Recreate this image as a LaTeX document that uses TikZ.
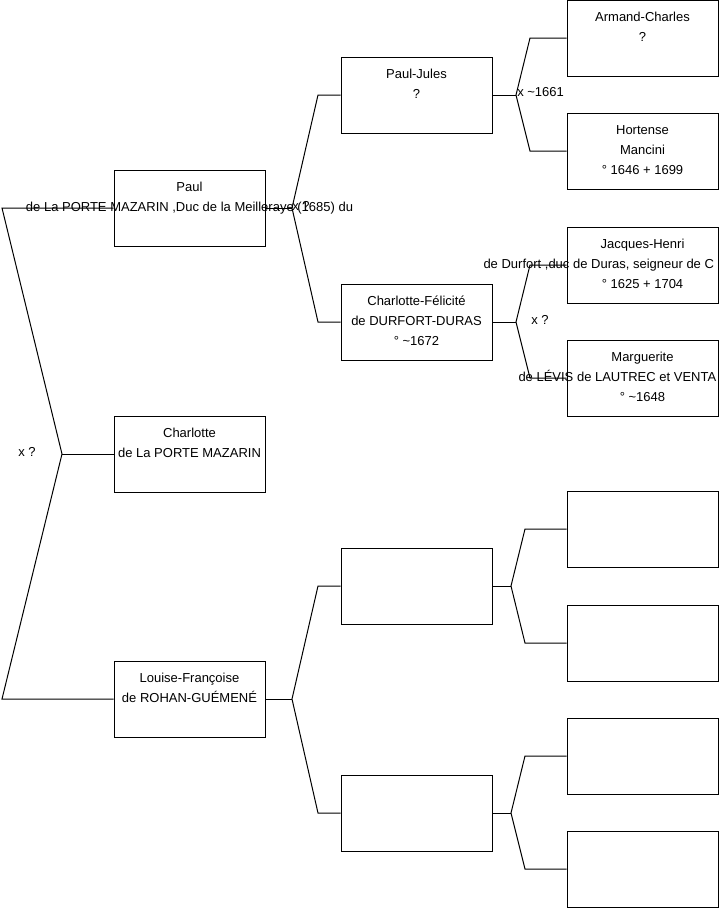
\documentclass[tikz,border=0pt]{standalone}
\usepackage{fontspec}
\setmainfont{Liberation Sans}
\newcommand{\ligne}{\rule[-4.75pt]{0pt}{15pt}}
\newcommand{\trois}[3]{\ligne#1\\\ligne#2\\\ligne#3}
\tikzset{
  personne/.style={draw, line width=0.75pt, minimum width=113.25pt, minimum height=57pt,
    inner sep=0pt, align=center, font=\fontsize{9.75}{15}\selectfont},
  mariage/.style={inner sep=0pt, font=\fontsize{9.75}{15}\selectfont},
  lien/.style={line width=0.75pt}
}
\begin{document}
\begin{tikzpicture}[x=0.75pt, y=-0.75pt]
\useasboundingbox (0,0) rectangle (719,908);
% generation 1
\node[personne] (paul) at (189.5,208) {\trois{Paul}{\makebox[0pt]{de La PORTE MAZARIN ,Duc de la Meilleraye (1685) du}}{}};
\node[personne] (charlotte) at (189.5,454) {\trois{Charlotte}{de La PORTE MAZARIN}{}};
\node[personne] (louise) at (189.5,699) {\trois{Louise-Françoise}{de ROHAN-GUÉMENÉ}{}};
% generation 2
\node[personne] (pauljules) at (416.5,95) {\trois{Paul-Jules}{?}{}};
\node[personne] (charlottefelicite) at (416.5,322) {\trois{Charlotte-Félicité}{de DURFORT-DURAS}{° \textasciitilde1672}};
\node[personne] (vide1) at (416.5,586) {};
\node[personne] (vide2) at (416.5,813) {};
% generation 3
\node[personne] (armand) at (642.5,38) {\trois{Armand-Charles}{?}{}};
\node[personne] (hortense) at (642.5,151) {\trois{Hortense}{Mancini}{° 1646 + 1699}};
\node[personne] (jacqueshenri) at (642.5,265) {\trois{Jacques-Henri}{\makebox[0pt][l]{\hspace{-119.25pt}de Durfort ,duc de Duras, seigneur de C}}{° 1625 + 1704}};
\node[personne] (marguerite) at (642.5,378) {\trois{Marguerite}{\makebox[0pt][l]{\hspace{-93pt}de LÉVIS de LAUTREC et VENTA}}{° \textasciitilde1648}};
\node[personne] (vide3) at (642.5,529) {};
\node[personne] (vide4) at (642.5,643) {};
\node[personne] (vide5) at (642.5,756) {};
\node[personne] (vide6) at (642.5,869) {};
% forks
\coordinate (j0) at (62,454);
\coordinate (e0a) at (2,208);
\coordinate (e0b) at (2,699);
\coordinate (j1) at (292,208);
\coordinate (e1a) at (318,95);
\coordinate (e1b) at (318,322);
\coordinate (j2) at (292,699);
\coordinate (e2a) at (318,586);
\coordinate (e2b) at (318,813);
\coordinate (j3) at (516,95);
\coordinate (e3a) at (530,38);
\coordinate (e3b) at (530,151);
\coordinate (j4) at (516,322);
\coordinate (e4a) at (530,265);
\coordinate (e4b) at (530,378);
\coordinate (j5) at (511,586);
\coordinate (e5a) at (525,529);
\coordinate (e5b) at (525,643);
\coordinate (j6) at (511,813);
\coordinate (e6a) at (525,756);
\coordinate (e6b) at (525,869);
\draw[lien] (paul.west) -- (e0a) -- (j0) -- (e0b) -- (louise.west);
\draw[lien] (j0) -- (charlotte.west);
\draw[lien] (pauljules.west) -- (e1a) -- (j1) -- (e1b) -- (charlottefelicite.west);
\draw[lien] (j1) -- (paul.east);
\draw[lien] (vide1.west) -- (e2a) -- (j2) -- (e2b) -- (vide2.west);
\draw[lien] (j2) -- (louise.east);
\draw[lien] (armand.west) -- (e3a) -- (j3) -- (e3b) -- (hortense.west);
\draw[lien] (j3) -- (pauljules.east);
\draw[lien] (jacqueshenri.west) -- (e4a) -- (j4) -- (e4b) -- (marguerite.west);
\draw[lien] (j4) -- (charlottefelicite.east);
\draw[lien] (vide3.west) -- (e5a) -- (j5) -- (e5b) -- (vide4.west);
\draw[lien] (j5) -- (vide1.east);
\draw[lien] (vide5.west) -- (e6a) -- (j6) -- (e6b) -- (vide6.west);
\draw[lien] (j6) -- (vide2.east);
% marriages
\node[mariage] (x0) at (27,452) {x ?};
\node[mariage, anchor=west] (x1) at (292,206) {x ?};
\node[mariage, anchor=west] (x3) at (517,92) {x \textasciitilde1661};
\node[mariage, anchor=west] (x4) at (531,320) {x ?};
\end{tikzpicture}
\end{document}
